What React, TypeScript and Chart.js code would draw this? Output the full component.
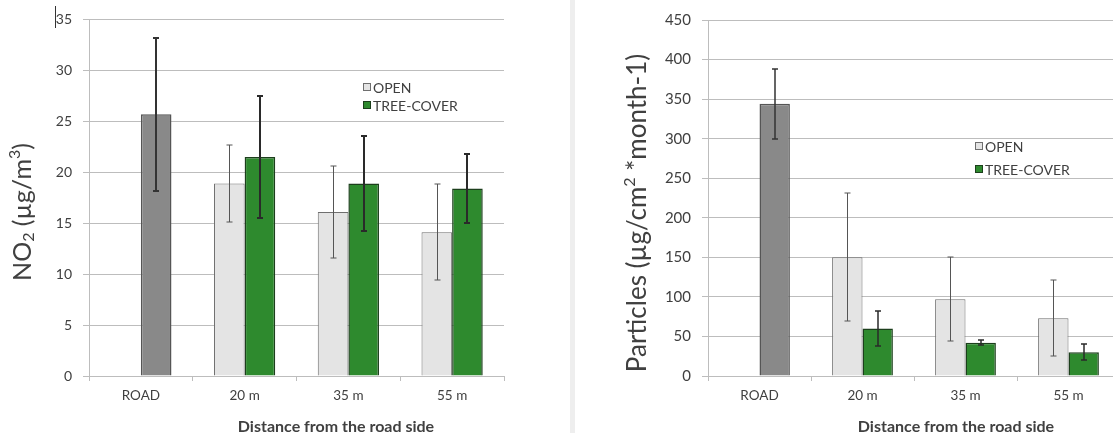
import { useEffect, useRef } from "react";
import { Chart, registerables } from "chart.js";

Chart.register(...registerables);

// Distance classes along the x axis
const categories = ["ROAD", "20 m", "35 m", "55 m"];

// NO2 concentration (µg/m³), mean and standard deviation
const no2Road = [25.7, null, null, null];
const no2RoadErr = [7.5, null, null, null];
const no2Open = [null, 18.9, 16.1, 14.1];
const no2OpenErr = [null, 3.8, 4.5, 4.7];
const no2Cover = [null, 21.5, 18.9, 18.4];
const no2CoverErr = [null, 6.0, 4.7, 3.4];
const no2Max = 35;
const no2Step = 5;

// Deposited particles (µg/cm² per month), mean and standard deviation
const pmRoad = [344, null, null, null];
const pmRoadErr = [44, null, null, null];
const pmOpen = [null, 150, 97, 73];
const pmOpenErr = [null, 81, 53, 48];
const pmCover = [null, 60, 42, 30];
const pmCoverErr = [null, 22, 3, 10];
const pmMax = 450;
const pmStep = 50;

const FONT = "Lato, 'Open Sans', sans-serif";
const GRID = "#bdbdbd";
const TEXT = "#404040";

type Seg = { t: string; sup?: boolean; sub?: boolean };

// Draws a run of text with optional super/subscript pieces, centred on (cx, cy)
function drawRich(ctx: CanvasRenderingContext2D, segs: Seg[], cx: number, cy: number, size: number, rotate: boolean, weight = "normal") {
  const big = `${weight} ${size}px ${FONT}`;
  const small = `${weight} ${Math.round(size * 0.62)}px ${FONT}`;
  let total = 0;
  const widths = segs.map((s) => {
    ctx.font = s.sup || s.sub ? small : big;
    const w = ctx.measureText(s.t).width;
    total += w;
    return w;
  });
  ctx.save();
  ctx.translate(cx, cy);
  if (rotate) ctx.rotate(-Math.PI / 2);
  ctx.fillStyle = TEXT;
  ctx.textBaseline = "middle";
  ctx.textAlign = "left";
  let x = -total / 2;
  segs.forEach((s, i) => {
    ctx.font = s.sup || s.sub ? small : big;
    const dy = s.sup ? -size * 0.32 : s.sub ? size * 0.22 : 0;
    ctx.fillText(s.t, x, dy);
    x += widths[i];
  });
  ctx.restore();
}

// Whiskers for mean ± standard deviation on every bar
const errorBarPlugin = {
  id: "errorBars",
  afterDatasetsDraw(chart: any) {
    const { ctx } = chart;
    const yScale = chart.scales.y;
    chart.data.datasets.forEach((ds: any, di: number) => {
      const meta = chart.getDatasetMeta(di);
      if (!ds.errors || meta.hidden) return;
      ctx.save();
      ctx.strokeStyle = ds.errorColor;
      ctx.lineWidth = ds.errorWidth;
      meta.data.forEach((bar: any, i: number) => {
        const v = ds.data[i];
        const e = ds.errors[i];
        if (v == null || e == null) return;
        const x = Math.round(bar.x) + (ds.errorWidth % 2 === 1 ? 0.5 : 0);
        const top = Math.round(yScale.getPixelForValue(v + e));
        const bot = Math.round(yScale.getPixelForValue(v - e));
        ctx.beginPath();
        ctx.moveTo(x, top);
        ctx.lineTo(x, bot);
        ctx.moveTo(x - 3, top);
        ctx.lineTo(x + 3, top);
        ctx.moveTo(x - 3, bot);
        ctx.lineTo(x + 3, bot);
        ctx.stroke();
      });
      ctx.restore();
    });
  },
};

// Legend inside the plot plus the axis titles
const decorPlugin = {
  id: "decor",
  afterDraw(chart: any, _args: any, opts: any) {
    const { ctx } = chart;
    const lg = opts.legend;
    let row = 0;
    chart.data.datasets.forEach((ds: any) => {
      if (ds.hideInLegend) return;
      const y = lg.y + row * lg.gap;
      ctx.save();
      ctx.fillStyle = ds.backgroundColor;
      ctx.fillRect(lg.x, y - lg.box / 2, lg.box, lg.box);
      ctx.strokeStyle = ds.borderColor;
      ctx.lineWidth = 1;
      ctx.strokeRect(lg.x + 0.5, y - lg.box / 2 + 0.5, lg.box - 1, lg.box - 1);
      ctx.fillStyle = TEXT;
      ctx.font = `normal ${lg.size}px ${FONT}`;
      ctx.textBaseline = "middle";
      ctx.textAlign = "left";
      ctx.fillText(ds.label, lg.x + lg.box + 2, y + 1);
      ctx.restore();
      row++;
    });
    const yt = opts.yTitle;
    drawRich(ctx, yt.segs, yt.x, yt.y, yt.size, true);
    const xt = opts.xTitle;
    drawRich(ctx, [{ t: xt.text }], xt.x, xt.y, xt.size, false, "bold");
  },
};

type PanelProps = {
  width: number;
  left: number;
  axisWidth: number;
  padRight: number;
  max: number;
  step: number;
  tickSize: number;
  road: (number | null)[];
  roadErr: (number | null)[];
  open: (number | null)[];
  openErr: (number | null)[];
  cover: (number | null)[];
  coverErr: (number | null)[];
  errThin: number;
  errThick: number;
  decor: any;
};

function Panel(p: PanelProps) {
  const ref = useRef<HTMLCanvasElement | null>(null);
  useEffect(() => {
    if (!ref.current) return;
    const chart = new Chart(ref.current, {
      type: "bar",
      data: {
        labels: categories,
        datasets: [
          {
            label: "OPEN",
            data: p.open,
            stack: "open",
            backgroundColor: "#e4e4e4",
            borderColor: "#6f6f6f",
            borderWidth: 1,
            errors: p.openErr,
            errorColor: "#555555",
            errorWidth: p.errThin,
          } as any,
          {
            label: "ROAD",
            data: p.road,
            stack: "site",
            backgroundColor: "#898989",
            borderColor: "#555555",
            borderWidth: 1.5,
            hideInLegend: true,
            errors: p.roadErr,
            errorColor: "#333333",
            errorWidth: p.errThick,
          } as any,
          {
            label: "TREE-COVER",
            data: p.cover,
            stack: "site",
            backgroundColor: "#2e8a2e",
            borderColor: "#1c3f1c",
            borderWidth: 1.5,
            errors: p.coverErr,
            errorColor: "#2a2a2a",
            errorWidth: p.errThick,
          } as any,
        ],
      },
      options: {
        responsive: false,
        animation: false,
        events: [],
        layout: { padding: { top: 17, right: p.padRight, left: 0, bottom: 0 } },
        datasets: { bar: { categoryPercentage: 0.59, barPercentage: 1 } },
        scales: {
          x: {
            grid: { drawOnChartArea: false, drawTicks: true, tickLength: 5, color: GRID, offset: true },
            border: { color: GRID },
            ticks: { color: TEXT, font: { family: FONT, size: 13.5 }, padding: 7 },
            afterFit: (s: any) => {
              s.height = 60;
            },
          },
          y: {
            stacked: false,
            min: 0,
            max: p.max,
            ticks: { stepSize: p.step, color: TEXT, font: { family: FONT, size: p.tickSize }, padding: 11 },
            grid: { color: GRID, tickLength: 6 },
            border: { color: GRID },
            afterFit: (s: any) => {
              s.width = p.axisWidth;
            },
          },
        },
        plugins: {
          legend: { display: false },
          tooltip: { enabled: false },
          decor: p.decor,
        } as any,
      },
      plugins: [errorBarPlugin, decorPlugin],
    });
    return () => chart.destroy();
  }, []);
  return (
    <div style={{ position: "absolute", left: p.left, top: 0, width: p.width, height: 436 }}>
      <canvas ref={ref} width={p.width} height={436} style={{ display: "block" }} />
    </div>
  );
}

export default function App() {
  return (
    <div
      style={{
        position: "fixed",
        left: 0,
        top: 0,
        width: 1113,
        height: 436,
        overflow: "hidden",
        background: "#ffffff",
      }}
    >
      <Panel
        width={565}
        left={0}
        axisWidth={89}
        padRight={61}
        max={no2Max}
        step={no2Step}
        tickSize={14}
        road={no2Road}
        roadErr={no2RoadErr}
        open={no2Open}
        openErr={no2OpenErr}
        cover={no2Cover}
        coverErr={no2CoverErr}
        errThin={1}
        errThick={2}
        decor={{
          legend: { x: 363, y: 87, gap: 18, box: 8, size: 14 },
          yTitle: {
            segs: [{ t: "NO" }, { t: "2", sub: true }, { t: " (µg/m" }, { t: "3", sup: true }, { t: ")" }],
            x: 23,
            y: 212,
            size: 25,
          },
          xTitle: { text: "Distance from the road side", x: 336, y: 427, size: 16 },
        }}
      />
      {/* caret mark beside the top tick label */}
      <div style={{ position: "absolute", left: 55, top: 6, width: 1, height: 22, background: "#333" }} />
      {/* divider between the two panels */}
      <div style={{ position: "absolute", left: 570, top: 0, width: 5, height: 433, background: "#eeeeee" }} />
      <Panel
        width={560}
        left={577}
        axisWidth={131}
        padRight={17}
        max={pmMax}
        step={pmStep}
        tickSize={15}
        road={pmRoad}
        roadErr={pmRoadErr}
        open={pmOpen}
        openErr={pmOpenErr}
        cover={pmCover}
        coverErr={pmCoverErr}
        errThin={1}
        errThick={1.5}
        decor={{
          legend: { x: 398, y: 146, gap: 23, box: 8, size: 14 },
          yTitle: {
            segs: [{ t: "Particles (µg/cm" }, { t: "2", sup: true }, { t: " *month-1)" }],
            x: 61,
            y: 213,
            size: 26,
          },
          xTitle: { text: "Distance from the road side", x: 379, y: 427, size: 16 },
        }}
      />
    </div>
  );
}
